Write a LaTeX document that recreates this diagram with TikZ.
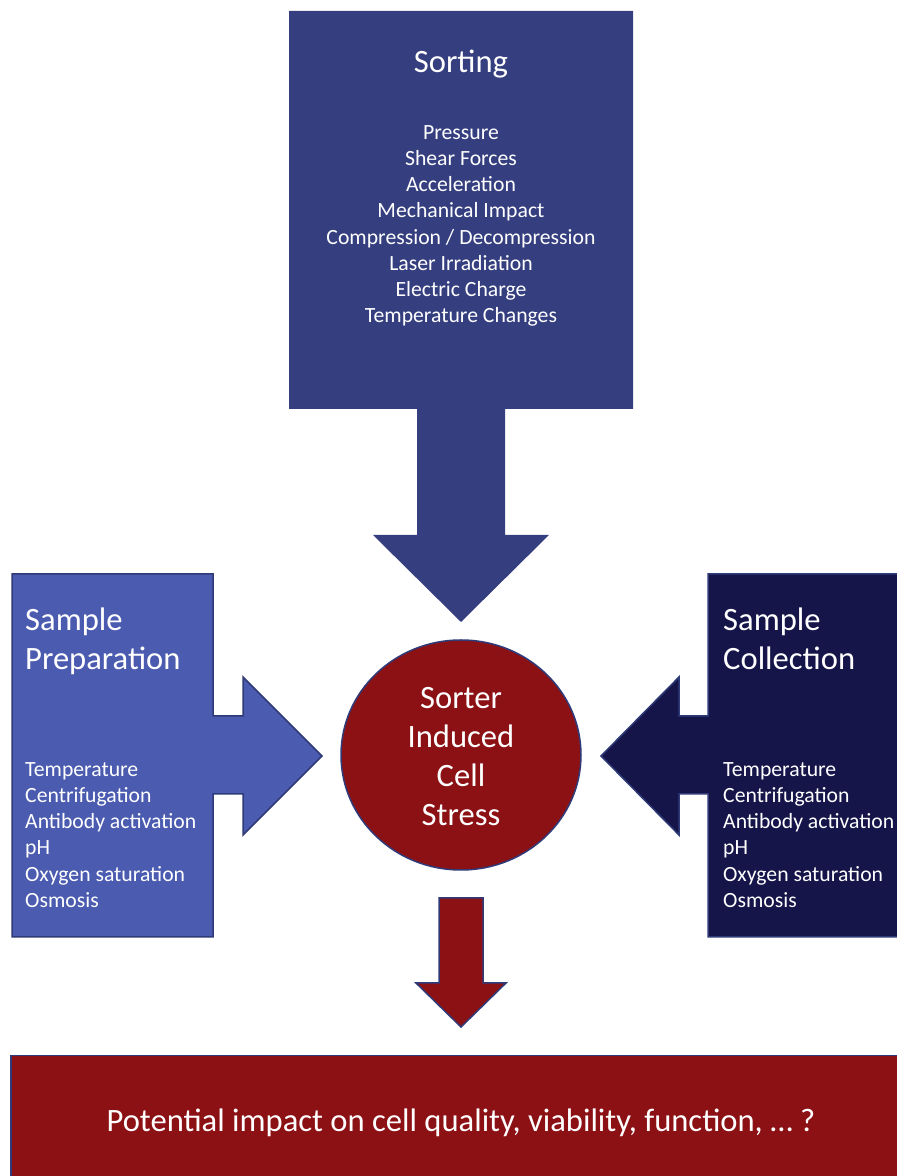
\documentclass[tikz,border=0pt]{standalone}
\usepackage{fontspec}
\setmainfont{Carlito}
\usetikzlibrary{shapes.geometric}
\definecolor{sortblue}{RGB}{53,63,127}
\definecolor{prepblue}{RGB}{74,91,176}
\definecolor{collblue}{RGB}{21,21,74}
\definecolor{stressred}{RGB}{139,17,20}
\definecolor{edgeblue}{RGB}{47,58,120}
\tikzset{
  heading/.style={text=white, inner sep=0pt, font=\fontsize{32.6}{39}\selectfont},
  listing/.style={text=white, inner sep=0pt, font=\fontsize{21.7}{26.2}\selectfont},
  outline/.style={draw=edgeblue, line width=1.5pt, line join=miter}
}

\begin{document}
\begin{tikzpicture}[x=1pt,y=1pt]
\useasboundingbox (0,0) rectangle (897,1176);
% sorting callout
\fill [sortblue] (289,1165)--(633,1165)--(633,767)--(505,767)--(505,641)--(549,641)
  --(461,554)--(373,641)--(417,641)--(417,767)--(289,767)--cycle;
% sample preparation callout
\filldraw [fill=prepblue, outline] (12,602)--(213,602)--(213,460)--(243,460)--(243,499)
  --(322,420)--(243,341)--(243,382)--(213,382)--(213,239)--(12,239)--cycle;
% sample collection callout
\filldraw [fill=collblue, outline] (910,602)--(708,602)--(708,460)--(679,460)--(679,499)
  --(601,420)--(679,341)--(679,382)--(708,382)--(708,239)--(910,239)--cycle;
% centre
\node [ellipse, fill=stressred, outline, minimum width=240, minimum height=230] (stress) at (461,421) {};
\node [heading, align=center] (stresstext) at (461,419) {Sorter\\Induced\\Cell\\Stress};
% result
\node [rectangle, fill=stressred, outline, minimum width=900, minimum height=125] (impact) at (461,58) {};
\node [heading] (impacttext) at (461,53) {Potential impact on cell quality, viability, function, … ?};
\filldraw [fill=stressred, outline] (439,278)--(483,278)--(483,193)--(506,193)
  --(461,149)--(416,193)--(439,193)--cycle;
% texts
\node [heading] (sorttitle) at (461,1112) {Sorting};
\node [listing, align=center] (sortlist) at (461,950) {Pressure\\Shear Forces\\Acceleration\\
  Mechanical Impact\\Compression / Decompression\\Laser Irradiation\\Electric Charge\\
  Temperature Changes};
\node [heading, align=left, anchor=west] (preptitle) at (25,535) {Sample\\Preparation};
\node [listing, align=left, anchor=west] (preplist) at (25,341) {Temperature\\Centrifugation\\
  Antibody activation\\pH\\Oxygen saturation\\Osmosis};
\node [heading, align=left, anchor=west] (colltitle) at (723,537) {Sample\\Collection};
\node [listing, align=left, anchor=west] (colllist) at (723,341) {Temperature\\Centrifugation\\
  Antibody activation\\pH\\Oxygen saturation\\Osmosis};
\end{tikzpicture}
\end{document}
